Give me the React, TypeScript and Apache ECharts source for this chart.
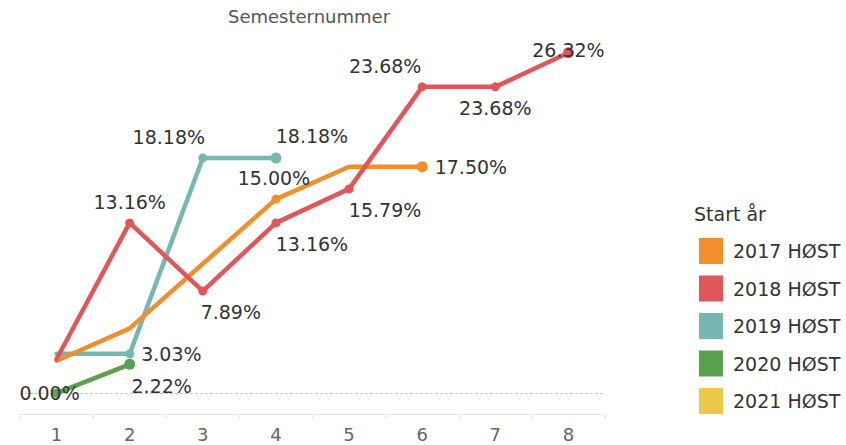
import React, { useEffect, useRef } from "react";
import * as echarts from "echarts";

const categories = ["1", "2", "3", "4", "5", "6", "7", "8"];
const seriesNames = ["2017 HØST", "2018 HØST", "2019 HØST", "2020 HØST", "2021 HØST"];
const s2017 = [2.5, 5.0, 10.0, 15.0, 17.5, 17.5, null, null];
const s2018 = [2.63, 13.16, 7.89, 13.16, 15.79, 23.68, 23.68, 26.32];
const s2019 = [3.03, 3.03, 18.18, 18.18, null, null, null, null];
const s2020 = [0.0, 2.22, null, null, null, null, null, null];
const s2021: (number | null)[] = [];
const colors = ["#F28E2B", "#E15759", "#76B7B2", "#59A14F", "#EDC948"];

// label placement per point (style only): [position, offsetX, offsetY]
type LP = [string, number, number] | null;
const labels2017: LP[] = [null, null, null, ["top", -2, 0], null, ["right", 0, 0], null, null];
const labels2018: LP[] = [
  null,
  ["top", 0, 0],
  ["bottom", 28, 0],
  ["bottom", 36, 0],
  ["bottom", 36, 0],
  ["top", -37, 0],
  ["bottom", 0, 0],
  ["inside", 0, -3],
];
const labels2019: LP[] = [null, ["right", 0, 0], ["top", -34, 0], ["top", 36, 0], null, null, null, null];
const labels2020: LP[] = [["inside", -7, 0], ["bottom", 32, 0], null, null, null, null, null, null];

const FONT = "DejaVu Sans";

function buildData(values: (number | null)[], lps: LP[]) {
  const lastIdx = values.reduce((acc: number, v, i) => (v !== null ? i : acc), -1);
  return values.map((v, i) => {
    const lp = lps[i];
    if (v === null) return { value: null };
    if (!lp) return { value: v, symbol: "none", label: { show: false } };
    return {
      value: v,
      symbol: "circle",
      symbolSize: i === lastIdx ? 11 : 9,
      label: {
        show: true,
        position: lp[0],
        offset: [lp[1], lp[2]],
        distance: 7,
      },
    };
  });
}

export default function App() {
  const ref = useRef<HTMLDivElement>(null);
  useEffect(() => {
    if (!ref.current) return;
    const chart = echarts.init(ref.current, null, { renderer: "svg" });
    const mk = (idx: number, values: (number | null)[], lps: LP[], z: number, extra: any = {}) => ({
      name: seriesNames[idx],
      type: "line",
      z,
      data: buildData(values, lps),
      connectNulls: false,
      showSymbol: true,
      color: colors[idx],
      itemStyle: { color: colors[idx], borderWidth: 0 },
      lineStyle: { width: 4.5, color: colors[idx], cap: "round", join: "round" },
      label: {
        formatter: (p: any) => `${Number(p.value).toFixed(2)}%`,
        color: "#333",
        fontFamily: FONT,
        fontSize: 19,
      },
      emphasis: { disabled: true },
      ...extra,
    });
    chart.setOption({
      animation: false,
      color: colors,
      textStyle: { fontFamily: FONT },
      graphic: [
        {
          type: "text",
          left: 228,
          top: 7,
          style: { text: "Semesternummer", fontFamily: FONT, fontSize: 18, fill: "#555" },
        },
        {
          type: "text",
          left: 694,
          top: 204,
          style: { text: "Start år", fontFamily: FONT, fontSize: 19, fill: "#333" },
        },
      ],
      legend: {
        orient: "vertical",
        left: 694,
        top: 233,
        icon: "rect",
        itemWidth: 24,
        itemHeight: 26,
        itemGap: 11.5,
        selectedMode: false,
        data: seriesNames,
        textStyle: { fontFamily: FONT, fontSize: 19, color: "#333", padding: [0, 0, 0, 5] },
      },
      grid: { left: 20, right: 241, top: 31, bottom: 31, containLabel: false },
      xAxis: {
        type: "category",
        data: categories,
        boundaryGap: true,
        axisLine: { show: true, onZero: false, lineStyle: { color: "#e6e6e6", width: 1 } },
        axisTick: { show: true, interval: 0, length: 6, lineStyle: { color: "#e6e6e6" } },
        axisLabel: { color: "#666", fontFamily: FONT, fontSize: 18, margin: 11 },
        splitLine: { show: false },
      },
      yAxis: {
        type: "value",
        min: -1.62,
        max: 28,
        show: false,
        splitLine: { show: false },
      },
      series: [
        mk(4, s2021, [], 1),
        mk(3, s2020, labels2020, 2, {
          markLine: {
            silent: true,
            symbol: "none",
            label: { show: false },
            lineStyle: { type: [3, 2], color: "#c4c4c4", width: 1 },
            data: [{ yAxis: 0 }],
            z: 0,
          },
        }),
        mk(2, s2019, labels2019, 3),
        mk(0, s2017, labels2017, 4),
        mk(1, s2018, labels2018, 5),
      ],
    });
    return () => chart.dispose();
  }, []);
  return (
    <div
      ref={ref}
      style={{ position: "absolute", left: 0, top: 0, width: 846, height: 445 }}
    />
  );
}
